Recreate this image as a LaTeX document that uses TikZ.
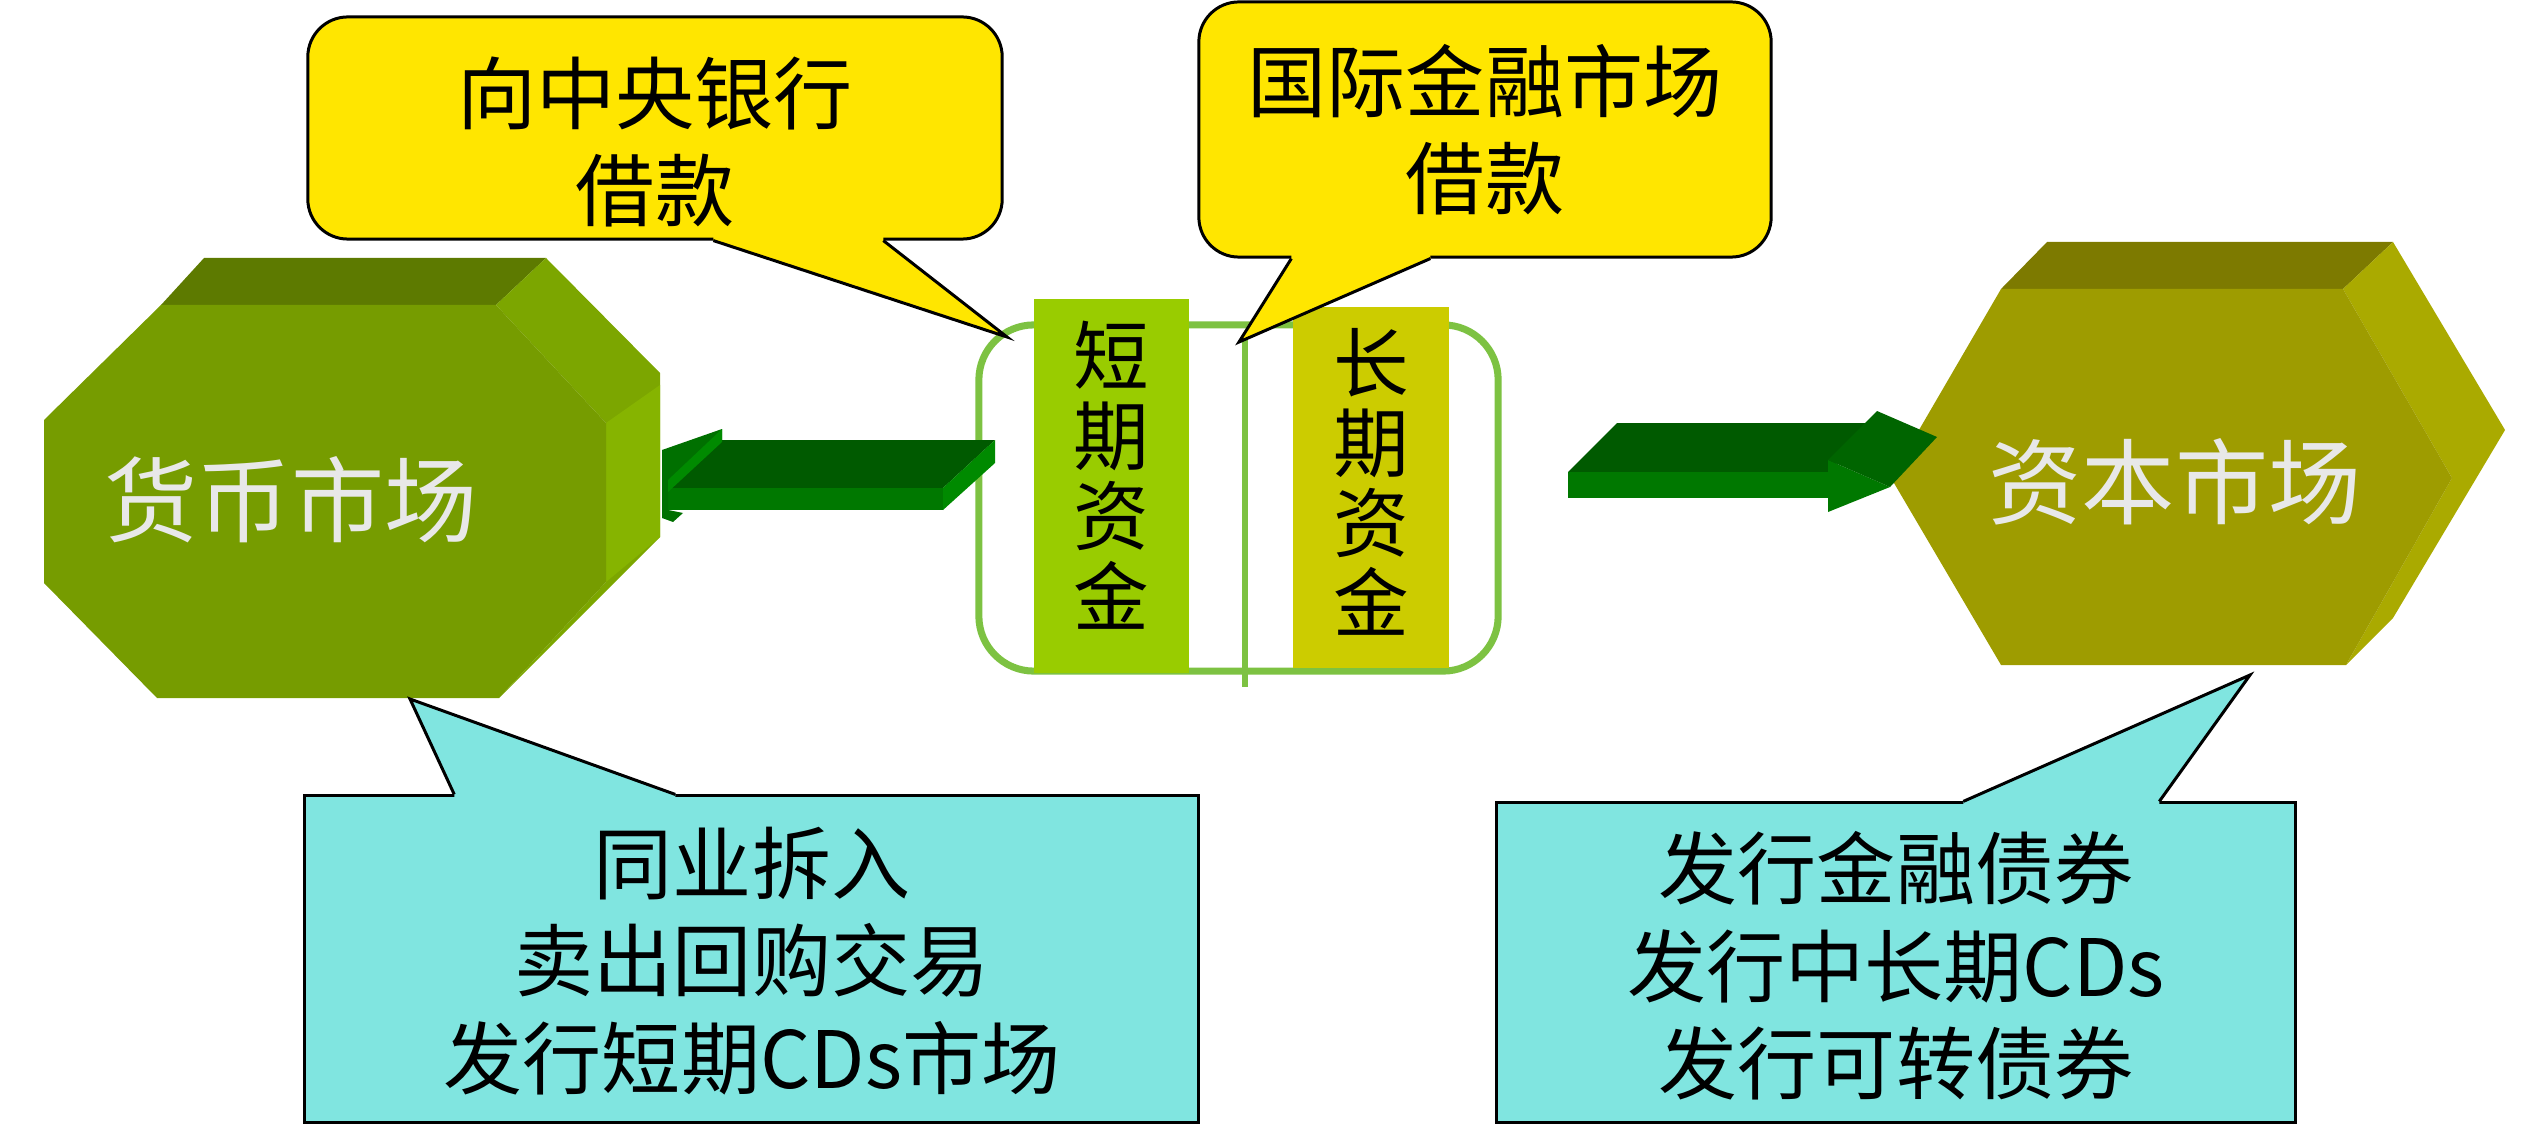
\documentclass[tikz,border=0pt]{standalone}
\usepackage{fontspec}
\usepackage{tikz}
\usetikzlibrary{positioning, calc}
\newfontfamily\cjk{Noto Sans CJK SC}
\definecolor{moneyfront}{RGB}{118,156,0}
\definecolor{moneytop}{RGB}{93,122,0}
\definecolor{moneyside}{RGB}{124,166,0}
\definecolor{moneystrip}{RGB}{134,180,0}
\definecolor{capfront}{RGB}{158,156,0}
\definecolor{captop}{RGB}{125,122,0}
\definecolor{capside}{RGB}{170,170,0}
\definecolor{pooledge}{RGB}{125,194,66}
\definecolor{shortbar}{RGB}{153,204,0}
\definecolor{longbar}{RGB}{204,204,0}
\definecolor{callyellow}{RGB}{255,230,0}
\definecolor{callcyan}{RGB}{128,229,224}
\definecolor{arrowtop}{RGB}{0,90,0}
\definecolor{arrowfront}{RGB}{0,120,0}
\definecolor{arrowend}{RGB}{0,138,0}
\definecolor{arrowhead}{RGB}{0,112,0}
\definecolor{mktwhite}{RGB}{232,232,232}

\begin{document}
\begin{tikzpicture}[x=0.01cm, y=-0.01cm,
  callbox/.style={draw=black, line width=0.85pt, inner sep=0pt},
  calltext/.style={align=center, font=\cjk\fontsize{22.5pt}{27.7pt}\selectfont},
  bartext/.style={align=center, font=\cjk\fontsize{21.5pt}{22.8pt}\selectfont},
  mkttext/.style={text=mktwhite, font=\cjk\fontsize{26.5pt}{30pt}\selectfont},
  fundbar/.style={inner sep=0pt}]
  \useasboundingbox (0,0) rectangle (2525,1143);
  % Money market octagon
  \fill[moneytop] (161,305) -- (204,258) -- (546,258) -- (496,305) -- cycle;
  \fill[moneyside] (496,305) -- (546,258) -- (660,373) -- (660,537) -- (499,698) -- (606,582) -- (606,423) -- cycle;
  \fill[moneystrip] (606,423) -- (660,385) -- (660,537) -- (606,582) -- cycle;
  \fill[moneyfront] (161,305) -- (496,305) -- (606,423) -- (606,582) -- (499,698) -- (157,698) -- (44,583) -- (44,420) -- cycle;
  \node[mkttext] (money) at (291,500) {货币市场};
  % Capital market hexagon
  \fill[captop] (2001,289) -- (2047,242) -- (2393,242) -- (2343,289) -- cycle;
  \fill[capside] (2343,289) -- (2393,242) -- (2505,430) -- (2393,618) -- (2346,665) -- (2452,478) -- cycle;
  \fill[capfront] (2001,289) -- (2343,289) -- (2452,478) -- (2346,665) -- (2001,665) -- (1891,478) -- cycle;
  \node[mkttext] (capital) at (2175,482) {资本市场};
  % Fund pool in the middle
  \node[draw=pooledge, line width=2pt, rounded corners=0.55cm, minimum width=5.19cm, minimum height=3.46cm] (pool) at (1238.5,498) {};
  \draw[pooledge, line width=1.6pt] ($(pool.north)+(6.5,15)$) -- ($(pool.south)+(6.5,12)$);
  \node[fundbar, fill=shortbar, minimum width=1.55cm, minimum height=3.74cm] (shortfund) at (1111.5,486) {};
  \node[fundbar, fill=longbar, minimum width=1.56cm, minimum height=3.61cm] (longfund) at (1371,487.5) {};
  \node[bartext] (shorttext) at (1111,475) {短\\期\\资\\金};
  \node[bartext] (longtext) at (1371,482) {长\\期\\资\\金};
  % Left arrow: pool -> money market
  \fill[arrowtop] (722,440) -- (995,440) -- (943,488) -- (668,488) -- cycle;
  \fill[arrowfront] (668,488) -- (943,488) -- (943,510) -- (668,510) -- cycle;
  \fill[arrowend] (995,440) -- (995,463) -- (943,510) -- (943,488) -- cycle;
  \fill[arrowhead] (722,429) -- (722,440) -- (668,488) -- (668,510) -- (683,513) -- (673,522) -- (662,518) -- (662,450) -- cycle;
  \fill[arrowend] (722,429) -- (722,442) -- (668,492) -- (668,480) -- cycle;
  % Right arrow: pool -> capital market
  \fill[arrowtop] (1617,423) -- (1877,423) -- (1828,472) -- (1568,472) -- cycle;
  \fill[arrowfront] (1568,472) -- (1828,472) -- (1828,498) -- (1568,498) -- cycle;
  \fill[arrowfront] (1828,460) -- (1890,487) -- (1828,512) -- cycle;
  \fill[arrowhead!90!black] (1828,460) -- (1877,411) -- (1937,437) -- (1890,487) -- cycle;
  % Tips of the callouts
  \coordinate (tipbank) at (1007,337);
  \coordinate (tipintl) at (1239,342);
  \coordinate (tipmoney) at (410,699);
  \coordinate (tipcap) at (2250,675);
  % Yellow callouts (borrowing)
  \node[callbox, fill=callyellow, rounded corners=0.4cm, minimum width=6.94cm, minimum height=2.22cm] (cbank) at (655,128) {};
  \fill[callyellow] ($(cbank.south west)+(407,-6)$) -- ($(cbank.south west)+(407,0)$) -- (tipbank) -- ($(cbank.south west)+(577,0)$) -- ($(cbank.south west)+(577,-6)$) -- cycle;
  \draw[black, line width=0.85pt] ($(cbank.south west)+(407,0)$) -- (tipbank) -- ($(cbank.south west)+(577,0)$);
  \node[calltext] (cbanktext) at (655,142) {向中央银行\\借款};
  \node[callbox, fill=callyellow, rounded corners=0.4cm, minimum width=5.72cm, minimum height=2.55cm] (cintl) at (1485,129.5) {};
  \fill[callyellow] ($(cintl.south west)+(94,-6)$) -- ($(cintl.south west)+(94,0)$) -- (tipintl) -- ($(cintl.south west)+(233,0)$) -- ($(cintl.south west)+(233,-6)$) -- cycle;
  \draw[black, line width=0.85pt] ($(cintl.south west)+(94,0)$) -- (tipintl) -- ($(cintl.south west)+(233,0)$);
  \node[calltext] (cintltext) at (1485,129.5) {国际金融市场\\借款};
  % Cyan callouts (instruments)
  \node[callbox, fill=callcyan, minimum width=8.93cm, minimum height=3.26cm] (cmoney) at (751.5,959) {};
  \fill[callcyan] ($(cmoney.north west)+(151,6)$) -- ($(cmoney.north west)+(151,0)$) -- (tipmoney) -- ($(cmoney.north west)+(372,0)$) -- ($(cmoney.north west)+(372,6)$) -- cycle;
  \draw[black, line width=0.85pt] ($(cmoney.north west)+(151,0)$) -- (tipmoney) -- ($(cmoney.north west)+(372,0)$);
  \node[calltext] (cmoneytext) at (752,961) {同业拆入\\卖出回购交易\\发行短期CDs市场};
  \node[callbox, fill=callcyan, minimum width=7.98cm, minimum height=3.19cm] (ccap) at (1896,962.5) {};
  \fill[callcyan] ($(ccap.north west)+(468,6)$) -- ($(ccap.north west)+(468,0)$) -- (tipcap) -- ($(ccap.north west)+(664,0)$) -- ($(ccap.north west)+(664,6)$) -- cycle;
  \draw[black, line width=0.85pt] ($(ccap.north west)+(468,0)$) -- (tipcap) -- ($(ccap.north west)+(664,0)$);
  \node[calltext] (ccaptext) at (1896,966) {发行金融债券\\发行中长期CDs\\发行可转债券};
\end{tikzpicture}
\end{document}
